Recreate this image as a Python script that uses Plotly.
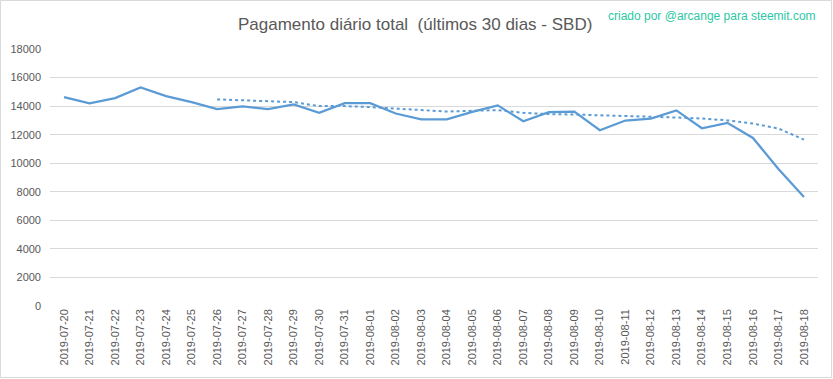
import plotly.graph_objects as go

dates = ["2019-07-20", "2019-07-21", "2019-07-22", "2019-07-23", "2019-07-24", "2019-07-25",
         "2019-07-26", "2019-07-27", "2019-07-28", "2019-07-29", "2019-07-30", "2019-07-31",
         "2019-08-01", "2019-08-02", "2019-08-03", "2019-08-04", "2019-08-05", "2019-08-06",
         "2019-08-07", "2019-08-08", "2019-08-09", "2019-08-10", "2019-08-11", "2019-08-12",
         "2019-08-13", "2019-08-14", "2019-08-15", "2019-08-16", "2019-08-17", "2019-08-18"]

payout = [14630, 14200, 14560, 15300, 14700, 14280, 13790, 13980, 13790, 14120,
          13530, 14210, 14210, 13480, 13080, 13080, 13600, 14050, 12940, 13580,
          13620, 12310, 12990, 13130, 13700, 12450, 12830, 11770, 9600, 7630]

trend_dates = dates[6:]
trend = [14470, 14400, 14350, 14280, 14000, 14000, 13930, 13810, 13720, 13620,
         13670, 13720, 13530, 13440, 13410, 13370, 13300, 13250, 13200, 13130,
         13000, 12780, 12430, 11650]

y_ticks = [0, 2000, 4000, 6000, 8000, 10000, 12000, 14000, 16000, 18000]

W, H = 833, 379
ml, mr, mt, mb = 50, 15, 49, 73
pw, ph = W - ml - mr, H - mt - mb

font_fam = "Liberation Sans, Arial, sans-serif"

fig = go.Figure()
fig.add_trace(go.Scatter(x=dates, y=payout, mode="lines",
                         line=dict(color="#5B9BD5", width=2.25), showlegend=False))
fig.add_trace(go.Scatter(x=trend_dates, y=trend, mode="lines",
                         line=dict(color="#5B9BD5", width=2, dash="dot"), showlegend=False))

fig.update_layout(
    width=W, height=H,
    margin=dict(l=ml, r=mr, t=mt, b=mb),
    paper_bgcolor="white", plot_bgcolor="white",
    font=dict(family=font_fam, color="#595959", size=11),
    xaxis=dict(type="category", categoryorder="array", categoryarray=dates,
               tickvals=dates, ticktext=dates, tickangle=-90, automargin=False,
               range=[-0.55, 29.55], showgrid=False, zeroline=False,
               showline=False, ticks="", tickfont=dict(size=11, color="#595959")),
    yaxis=dict(range=[0, 18000], tickvals=y_ticks, ticktext=[str(v) for v in y_ticks],
               showgrid=True, gridcolor="#D9D9D9", gridwidth=1, zeroline=False,
               showline=False, ticks="", ticklabelstandoff=8, automargin=False,
               tickfont=dict(size=11, color="#595959")),
    shapes=[dict(type="rect", xref="paper", yref="paper",
                 x0=(-ml + 0.5) / pw, x1=1 + (mr - 1.5) / pw,
                 y0=(-mb + 1.5) / ph, y1=1 + (mt - 0.5) / ph,
                 line=dict(color="#D9D9D9", width=1), layer="below")],
    annotations=[
        dict(text="Pagamento diário total  (últimos 30 dias - SBD)", xref="paper", yref="paper",
             x=(415 - ml) / pw, y=1 + (mt - 25) / ph, xanchor="center", yanchor="middle",
             showarrow=False, font=dict(size=17, color="#595959", family=font_fam)),
        dict(text="criado por @arcange para steemit.com", xref="paper", yref="paper",
             x=1, y=1 + (mt - 16) / ph, xanchor="right", yanchor="middle",
             showarrow=False, font=dict(size=12, color="#2CC8A4", family=font_fam)),
    ],
)

fig.write_html("out.html", config={"displayModeBar": False},
               post_script="document.body.style.margin='0';")
